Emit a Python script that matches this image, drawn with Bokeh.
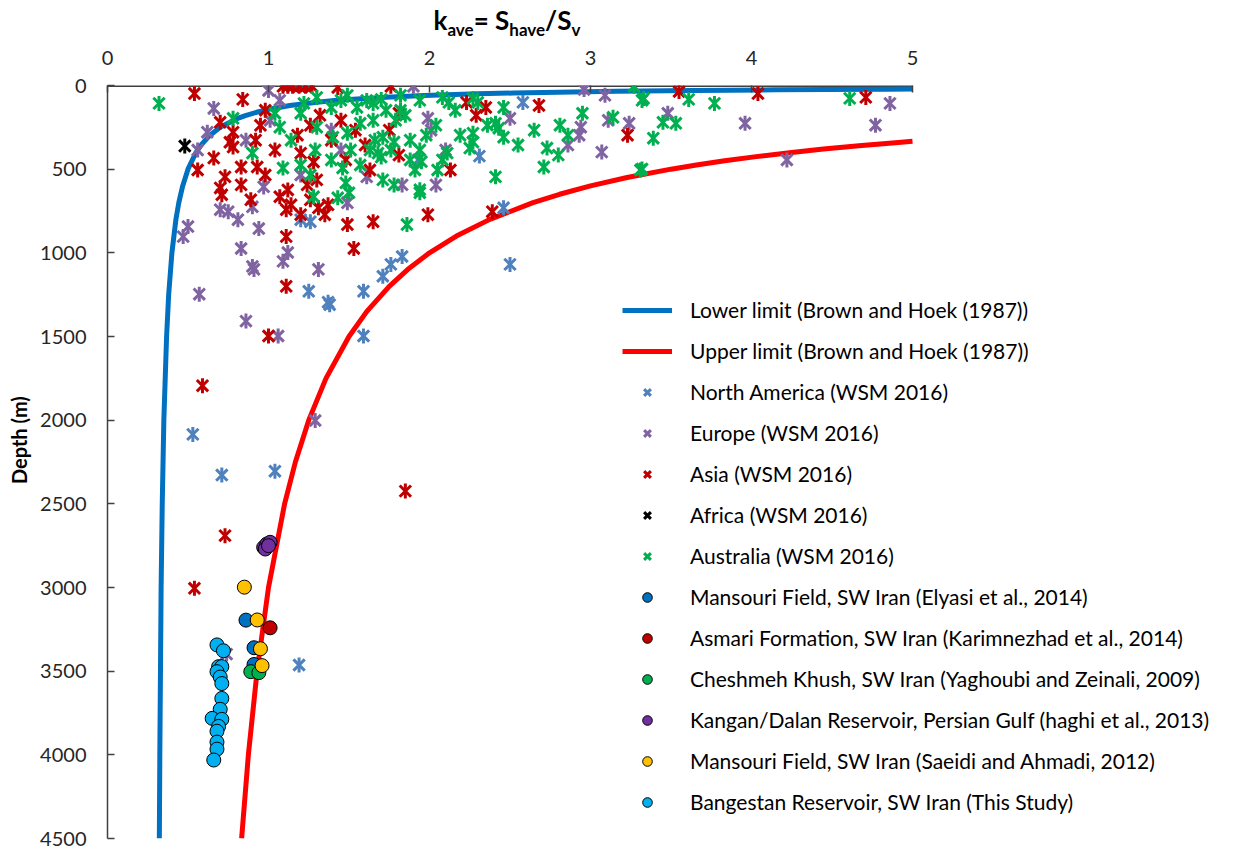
from bokeh.plotting import figure
from bokeh.models import Range1d, FixedTicker, Legend, LegendItem, Div
from bokeh.layouts import column
from bokeh.embed import file_html
from bokeh.resources import INLINE

# ---------------- data ----------------
lower_depth = [21.3, 22, 24, 26, 28, 30, 35, 40, 45, 50, 60, 70, 80, 90, 100, 120, 140, 160, 180, 200,
               250, 300, 350, 400, 500, 600, 700, 800, 1000, 1250, 1500, 2000, 2500, 3000, 3500, 4000, 4500]
lower_k = [5.0, 4.845, 4.467, 4.146, 3.871, 3.633, 3.157, 2.8, 2.522, 2.3, 1.967, 1.729, 1.55, 1.411, 1.3,
           1.133, 1.014, 0.925, 0.856, 0.8, 0.7, 0.633, 0.586, 0.55, 0.5, 0.467, 0.443, 0.425, 0.4, 0.38,
           0.367, 0.35, 0.34, 0.333, 0.329, 0.325, 0.322]

upper_depth = [333.3, 340, 360, 380, 400, 425, 450, 475, 500, 550, 600, 650, 700, 800, 900, 1000, 1100,
               1200, 1350, 1500, 1750, 2000, 2250, 2500, 3000, 3500, 4000, 4500]
upper_k = [5.0, 4.912, 4.667, 4.447, 4.25, 4.029, 3.833, 3.658, 3.5, 3.227, 3.0, 2.808, 2.643, 2.375,
           2.167, 2.0, 1.864, 1.75, 1.611, 1.5, 1.357, 1.25, 1.167, 1.1, 1.0, 0.929, 0.875, 0.833]

na_k = [2.58, 2.31, 1.20, 1.26, 1.25, 1.37, 1.38, 1.59, 1.83, 1.76, 1.71, 2.50, 2.46, 1.59, 0.53, 0.71,
        1.04, 1.19, 1.93]
na_depth = [101, 422, 802, 814, 1230, 1295, 1310, 1230, 1022, 1069, 1140, 1069, 731, 1497, 2085, 2328,
            2305, 3463, 445]

eu_k = [0.66, 1.00, 0.62, 0.56, 0.86, 0.97, 1.61, 0.50, 0.47, 0.70, 0.75, 0.81, 0.90, 0.94, 0.83, 0.90,
        0.91, 0.57, 1.09, 1.12, 1.31, 0.86, 1.06, 1.29, 0.74, 1.49, 1.90, 2.96, 3.09, 2.50, 2.94, 2.93,
        2.86, 3.11, 3.24, 3.07, 1.83, 2.04, 1.99, 2.01, 3.48, 3.96, 4.77, 4.22, 4.86, 2.10, 1.20, 1.45,
        1.01, 1.07, 1.39]
eu_depth = [137, 30, 279, 386, 327, 606, 546, 843, 903, 742, 754, 802, 725, 855, 974, 1081, 1099, 1247,
            1051, 998, 1099, 1408, 1497, 2002, 3398, 701, 5, 24, 59, 196, 249, 297, 356, 208, 226, 398,
            594, 594, 196, 267, 166, 226, 237, 445, 107, 386, 535, 386, 208, 89, 267]

asia_k = [0.54, 0.84, 1.09, 1.12, 1.15, 1.19, 1.23, 1.27, 1.76, 1.43, 0.70, 0.78, 0.78, 0.76, 0.66, 0.56,
          0.95, 1.04, 0.73, 0.70, 0.83, 0.93, 1.18, 1.20, 1.28, 1.12, 1.24, 1.30, 0.71, 1.07, 1.11, 1.14,
          1.20, 1.26, 1.31, 1.37, 1.35, 1.11, 1.11, 1.49, 1.53, 1.65, 1.99, 2.39, 1.81, 1.75, 1.81, 2.23,
          2.35, 2.29, 2.68, 3.23, 3.55, 4.04, 4.71, 2.13, 1.00, 0.59, 1.85, 0.73, 0.54, 1.45, 1.39, 1.54,
          1.60, 1.32, 1.26, 0.92, 0.98, 1.63, 1.48, 0.83, 0.89, 0.98]
asia_depth = [48, 83, 5, 5, 5, 5, 5, 5, 5, 12, 220, 279, 368, 339, 434, 505, 238, 386, 546, 612, 487, 487,
              297, 404, 457, 624, 594, 564, 653, 665, 742, 713, 772, 683, 731, 713, 772, 903, 1200, 831,
              974, 814, 772, 754, 166, 267, 416, 101, 131, 178, 119, 297, 36, 48, 71, 505, 1497, 1794,
              2424, 2690, 3005, 208, 327, 267, 356, 178, 238, 327, 148, 505, 445, 594, 683, 535]

africa_k = [0.48]
africa_depth = [362]

aus_k = [0.32, 0.78, 0.90, 1.09, 1.29, 1.46, 1.48, 1.28, 1.43, 1.50, 1.04, 1.07, 1.20, 1.22, 1.30, 1.39,
         1.45, 1.49, 1.55, 1.61, 1.65, 1.30, 1.40, 1.49, 1.57, 1.65, 1.70, 1.73, 1.66, 1.63, 1.70, 1.76,
         1.79, 1.82, 1.85, 1.88, 1.88, 1.91, 1.94, 1.71, 1.78, 1.94, 1.71, 1.78, 1.68, 1.82, 1.94, 2.08,
         2.12, 2.27, 2.30, 2.46, 2.41, 2.43, 2.36, 2.46, 2.65, 2.55, 2.81, 2.86, 2.95, 2.73, 2.80, 2.71,
         2.41, 3.31, 2.27, 2.27, 2.25, 2.11, 2.08, 2.05, 1.95, 3.27, 3.32, 3.14, 3.33, 3.61, 3.77, 3.45,
         3.53, 3.39, 3.32, 4.61, 1.86, 1.94, 1.20, 1.26, 1.14, 1.51, 1.57, 1.39, 2.04, 2.16, 2.19, 1.98]
aus_depth = [107, 196, 404, 493, 386, 493, 582, 665, 671, 641, 166, 249, 166, 107, 71, 131, 89, 59, 131,
             89, 107, 249, 309, 285, 226, 208, 83, 148, 327, 386, 428, 386, 208, 148, 178, 327, 445, 505,
             386, 564, 594, 623, 309, 338, 404, 59, 89, 71, 101, 77, 101, 131, 226, 255, 237, 309, 267,
             356, 237, 297, 166, 374, 416, 487, 546, 505, 285, 338, 374, 404, 445, 505, 455, 5, 89, 190,
             77, 83, 107, 220, 226, 315, 499, 77, 831, 641, 475, 535, 327, 386, 475, 445, 237, 148, 297, 297]

elyasi_k = [0.86, 0.91, 0.91]
elyasi_depth = [3195, 3360, 3460]
asmari_k = [1.01]
asmari_depth = [3241]
cheshmeh_k = [0.89, 0.94]
cheshmeh_depth = [3503, 3509]
kangan_k = [0.97, 0.99, 1.01, 0.98, 1.00]
kangan_depth = [2760, 2740, 2730, 2770, 2750]
saeidi_k = [0.85, 0.93, 0.95, 0.96]
saeidi_depth = [2998, 3194, 3366, 3467]
bangestan_k = [0.68, 0.72, 0.69, 0.71, 0.68, 0.70, 0.71, 0.71, 0.70, 0.65, 0.71, 0.69, 0.68, 0.68, 0.68, 0.66]
bangestan_depth = [3343, 3378, 3473, 3473, 3503, 3535, 3574, 3663, 3728, 3782, 3788, 3830, 3859, 3924,
                   3966, 4031]

x_ticks = [0, 1, 2, 3, 4, 5]
y_ticks = [0, 500, 1000, 1500, 2000, 2500, 3000, 3500, 4000, 4500]

FONT = "Lato"

# ---------------- layout geometry (pixels) ----------------
W, H = 1235, 850
TITLE_H = 45
FRAME_L, FRAME_R_AXIS, FRAME_T, FRAME_B = 107, 912, 85, 838
# frame stretches to the right edge so the legend is not clipped; 0..5 still spans 107..912
x_end = x_ticks[-1] * (W - FRAME_L) / (FRAME_R_AXIS - FRAME_L)

p = figure(width=W, height=H - TITLE_H, output_backend="svg", toolbar_location=None,
           x_axis_location="above", x_range=Range1d(0, x_end), y_range=Range1d(y_ticks[-1], y_ticks[0]),
           min_border_left=FRAME_L, min_border_right=0, min_border_top=FRAME_T - TITLE_H,
           min_border_bottom=H - FRAME_B)
p.outline_line_color = None
p.xgrid.visible = False
p.ygrid.visible = False

for ax, ticks in ((p.xaxis[0], x_ticks), (p.yaxis[0], y_ticks)):
    ax.ticker = FixedTicker(ticks=ticks)
    ax.minor_tick_line_color = None
    ax.major_tick_in = 7
    ax.major_tick_out = 0
    ax.axis_line_color = "#404040"
    ax.axis_line_width = 1.5
    ax.major_tick_line_color = "#404040"
    ax.major_tick_line_width = 1.5
    ax.major_label_text_font = FONT
    ax.major_label_text_font_size = "20px"
    ax.major_label_text_color = "#262626"

# top axis line only spans 0..5 (drawn as a glyph)
p.xaxis[0].axis_line_color = None
p.line([x_ticks[0], x_ticks[-1]], [y_ticks[0], y_ticks[0]], line_color="#404040", line_width=3)

p.xaxis[0].major_label_standoff = 21
p.yaxis[0].major_label_standoff = 21
p.yaxis[0].axis_label = "\u00a0" * 9 + "Depth (m)"
p.yaxis[0].axis_label_text_font = FONT
p.yaxis[0].axis_label_text_font_style = "bold"
p.yaxis[0].axis_label_text_font_size = "20px"
p.yaxis[0].axis_label_text_color = "#000000"
p.yaxis[0].axis_label_standoff = 6

# curves
r_low = p.line(lower_k, lower_depth, line_color="#0070C0", line_width=5)
r_up = p.line(upper_k, upper_depth, line_color="#FF0000", line_width=5)

def star(k, d, color):
    rx = p.scatter(k, d, marker="x", size=16, line_color=color, line_width=3)
    p.scatter(k, d, marker="dash", size=15, angle=1.5708, line_color=color, line_width=3)
    return rx

r_na = star(na_k, na_depth, "#4F81BD")
r_eu = star(eu_k, eu_depth, "#8064A2")
r_as = star(asia_k, asia_depth, "#C00000")
r_af = star(africa_k, africa_depth, "#000000")
r_au = star(aus_k, aus_depth, "#00B050")

def dots(k, d, color):
    return p.scatter(k, d, marker="circle", size=14, fill_color=color, line_color="#000000", line_width=1)

r_ely = dots(elyasi_k, elyasi_depth, "#0070C0")
r_asm = dots(asmari_k, asmari_depth, "#C00000")
r_che = dots(cheshmeh_k, cheshmeh_depth, "#00B050")
r_kan = dots(kangan_k, kangan_depth, "#7030A0")
r_sae = dots(saeidi_k, saeidi_depth, "#FFC000")
r_ban = dots(bangestan_k, bangestan_depth, "#00B0F0")

items = [
    ("Lower limit (Brown and Hoek (1987))", r_low),
    ("Upper limit (Brown and Hoek (1987))", r_up),
    ("North America (WSM 2016)", r_na),
    ("Europe (WSM 2016)", r_eu),
    ("Asia (WSM 2016)", r_as),
    ("Africa (WSM 2016)", r_af),
    ("Australia (WSM 2016)", r_au),
    ("Mansouri Field, SW Iran (Elyasi et al., 2014)", r_ely),
    ("Asmari Formation, SW Iran (Karimnezhad et al., 2014)", r_asm),
    ("Cheshmeh Khush, SW Iran (Yaghoubi and Zeinali, 2009)", r_che),
    ("Kangan/Dalan Reservoir, Persian Gulf (haghi et al., 2013)", r_kan),
    ("Mansouri Field, SW Iran (Saeidi and Ahmadi, 2012)", r_sae),
    ("Bangestan Reservoir, SW Iran (This Study)", r_ban),
]
legend = Legend(items=[LegendItem(label=t, renderers=[r]) for t, r in items],
                location=(515, 24), padding=0, margin=0, spacing=16,
                glyph_width=50, glyph_height=24, label_height=24, label_standoff=18,
                label_text_font=FONT, label_text_font_size="21px", label_text_color="#000000",
                border_line_color=None, background_fill_alpha=0)
p.add_layout(legend, "center")

# axis title with subscripts
sub = '<sub style="font-size:17px; vertical-align:-6px;">%s</sub>'
title_html = ("k" + sub % "ave" + "= S" + sub % "have" + "/S" + sub % "v")
title = Div(text=title_html, width=2 * 507, height=TITLE_H, margin=0,
            styles={"font-family": FONT, "font-weight": "bold", "font-size": "26px",
                    "line-height": "26px", "padding-top": "7px", "text-align": "center",
                    "color": "#000000", "box-sizing": "border-box"})

layout = column(title, p, spacing=0)
open("out.html", "w").write(file_html(layout, INLINE))
